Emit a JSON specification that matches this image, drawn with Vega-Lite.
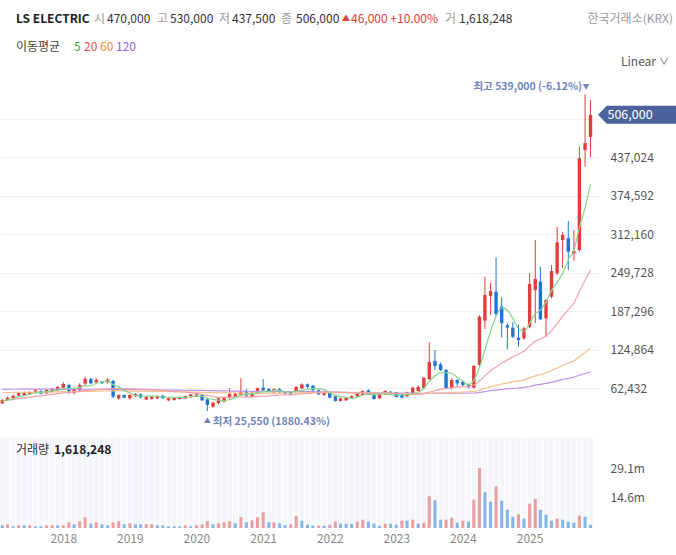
{
  "$schema": "https://vega.github.io/schema/vega-lite/v6.json",
  "width": 598,
  "height": 528,
  "autosize": {"type": "none"},
  "padding": {"left": 0, "top": 0, "right": 78, "bottom": 27},
  "background": "#ffffff",
  "config": {"view": {"stroke": null}, "font": "Noto Sans CJK KR"},
  "data": {"values": [
    {"date":"2017-02-01","open":38050,"high":45100,"low":36450,"close":43450,"volume":1310000,"volUp":false,"ma5":41000,"ma20":42000,"ma60":55500,"ma120":60800},
    {"date":"2017-03-01","open":42900,"high":48850,"low":41850,"close":47250,"volume":1790000,"volUp":true,"ma5":43500,"ma20":43000,"ma60":55600,"ma120":60800},
    {"date":"2017-04-01","open":46150,"high":52100,"low":45100,"close":50500,"volume":820000,"volUp":false,"ma5":45500,"ma20":44300,"ma60":55700,"ma120":60900},
    {"date":"2017-05-01","open":50500,"high":56450,"low":49400,"close":54800,"volume":1310000,"volUp":true,"ma5":48500,"ma20":45500,"ma60":55800,"ma120":60900},
    {"date":"2017-06-01","open":51050,"high":56950,"low":49950,"close":55350,"volume":1250000,"volUp":false,"ma5":50300,"ma20":46800,"ma60":55900,"ma120":61000},
    {"date":"2017-07-01","open":52650,"high":57500,"low":51550,"close":56450,"volume":1310000,"volUp":true,"ma5":52900,"ma20":48000,"ma60":56000,"ma120":61000},
    {"date":"2017-08-01","open":54800,"high":60750,"low":53750,"close":59150,"volume":820000,"volUp":false,"ma5":55200,"ma20":49300,"ma60":56100,"ma120":61000},
    {"date":"2017-09-01","open":58050,"high":59700,"low":52650,"close":53750,"volume":800000,"volUp":false,"ma5":55900,"ma20":50300,"ma60":56200,"ma120":61100},
    {"date":"2017-10-01","open":54250,"high":61300,"low":53200,"close":59700,"volume":1310000,"volUp":true,"ma5":56900,"ma20":51500,"ma60":56300,"ma120":61100},
    {"date":"2017-11-01","open":56950,"high":62900,"low":55900,"close":61300,"volume":1350000,"volUp":true,"ma5":58000,"ma20":52600,"ma60":56400,"ma120":61100},
    {"date":"2017-12-01","open":59150,"high":66150,"low":58050,"close":64550,"volume":1300000,"volUp":false,"ma5":59700,"ma20":53800,"ma60":56500,"ma120":61100},
    {"date":"2018-01-01","open":63450,"high":72100,"low":62400,"close":69400,"volume":1330000,"volUp":true,"ma5":61700,"ma20":55000,"ma60":56700,"ma120":61100},
    {"date":"2018-02-01","open":67800,"high":69950,"low":52650,"close":55900,"volume":2760000,"volUp":true,"ma5":62200,"ma20":55600,"ma60":56800,"ma120":61000},
    {"date":"2018-03-01","open":54800,"high":63450,"low":52650,"close":61300,"volume":1790000,"volUp":false,"ma5":62500,"ma20":56600,"ma60":57000,"ma120":61000},
    {"date":"2018-04-01","open":59150,"high":70500,"low":56950,"close":67800,"volume":3250000,"volUp":true,"ma5":63800,"ma20":57600,"ma60":57200,"ma120":61000},
    {"date":"2018-05-01","open":69950,"high":81300,"low":67800,"close":77500,"volume":5190000,"volUp":true,"ma5":66400,"ma20":58600,"ma60":57400,"ma120":60900},
    {"date":"2018-06-01","open":77500,"high":79700,"low":68850,"close":70500,"volume":2090000,"volUp":false,"ma5":66600,"ma20":59400,"ma60":57600,"ma120":60900},
    {"date":"2018-07-01","open":72100,"high":78600,"low":69950,"close":75900,"volume":2760000,"volUp":true,"ma5":70600,"ma20":60300,"ma60":57800,"ma120":60800},
    {"date":"2018-08-01","open":73200,"high":74250,"low":69400,"close":70500,"volume":1790000,"volUp":false,"ma5":72400,"ma20":61000,"ma60":58000,"ma120":60800},
    {"date":"2018-09-01","open":72100,"high":78600,"low":69950,"close":76450,"volume":1310000,"volUp":false,"ma5":74200,"ma20":61600,"ma60":58100,"ma120":60700},
    {"date":"2018-10-01","open":74250,"high":75900,"low":46150,"close":48850,"volume":2760000,"volUp":true,"ma5":68400,"ma20":61800,"ma60":58200,"ma120":60600},
    {"date":"2018-11-01","open":46150,"high":52650,"low":44000,"close":51550,"volume":3250000,"volUp":true,"ma5":64700,"ma20":62100,"ma60":58200,"ma120":60500},
    {"date":"2018-12-01","open":51550,"high":52650,"low":46150,"close":47250,"volume":1790000,"volUp":false,"ma5":58900,"ma20":61900,"ma60":58100,"ma120":60400},
    {"date":"2019-01-01","open":46150,"high":53750,"low":44000,"close":51550,"volume":2280000,"volUp":true,"ma5":55100,"ma20":61700,"ma60":58000,"ma120":60300},
    {"date":"2019-02-01","open":49400,"high":54250,"low":48350,"close":53200,"volume":1790000,"volUp":false,"ma5":50500,"ma20":61600,"ma60":57900,"ma120":60200},
    {"date":"2019-03-01","open":52650,"high":54250,"low":46150,"close":47800,"volume":1750000,"volUp":false,"ma5":50300,"ma20":61200,"ma60":57800,"ma120":60100},
    {"date":"2019-04-01","open":44000,"high":49400,"low":43450,"close":48350,"volume":1800000,"volUp":true,"ma5":49600,"ma20":60700,"ma60":57700,"ma120":60000},
    {"date":"2019-05-01","open":45100,"high":49950,"low":44000,"close":48850,"volume":1840000,"volUp":true,"ma5":50000,"ma20":60400,"ma60":57600,"ma120":59900},
    {"date":"2019-06-01","open":46150,"high":51050,"low":45100,"close":49950,"volume":1310000,"volUp":false,"ma5":49600,"ma20":59900,"ma60":57500,"ma120":59800},
    {"date":"2019-07-01","open":50500,"high":51550,"low":45100,"close":46150,"volume":1280000,"volUp":false,"ma5":48200,"ma20":59200,"ma60":57400,"ma120":59700},
    {"date":"2019-08-01","open":42900,"high":47250,"low":41850,"close":46150,"volume":820000,"volUp":false,"ma5":47900,"ma20":58300,"ma60":57200,"ma120":59600},
    {"date":"2019-09-01","open":43450,"high":48350,"low":42400,"close":47250,"volume":800000,"volUp":false,"ma5":47700,"ma20":57100,"ma60":57000,"ma120":59500},
    {"date":"2019-10-01","open":45100,"high":49400,"low":44000,"close":48350,"volume":780000,"volUp":false,"ma5":47600,"ma20":56800,"ma60":56800,"ma120":59400},
    {"date":"2019-11-01","open":46150,"high":51050,"low":45100,"close":49950,"volume":1310000,"volUp":true,"ma5":47600,"ma20":56200,"ma60":56600,"ma120":59300},
    {"date":"2019-12-01","open":48350,"high":53750,"low":47250,"close":52650,"volume":820000,"volUp":false,"ma5":48900,"ma20":55400,"ma60":56400,"ma120":59200},
    {"date":"2020-01-01","open":49400,"high":53750,"low":48350,"close":52650,"volume":1310000,"volUp":true,"ma5":50200,"ma20":54200,"ma60":56200,"ma120":59100},
    {"date":"2020-02-01","open":51550,"high":52650,"low":41850,"close":42900,"volume":1790000,"volUp":true,"ma5":49300,"ma20":52800,"ma60":56000,"ma120":59000},
    {"date":"2020-03-01","open":44550,"high":46150,"low":25550,"close":35350,"volume":3250000,"volUp":true,"ma5":46700,"ma20":50800,"ma60":55700,"ma120":58800},
    {"date":"2020-04-01","open":32650,"high":40750,"low":31050,"close":39150,"volume":1790000,"volUp":false,"ma5":44600,"ma20":49200,"ma60":55400,"ma120":58600},
    {"date":"2020-05-01","open":38600,"high":47800,"low":36450,"close":46150,"volume":2280000,"volUp":true,"ma5":43300,"ma20":47700,"ma60":55200,"ma120":58400},
    {"date":"2020-06-01","open":40750,"high":48850,"low":39700,"close":47250,"volume":2760000,"volUp":true,"ma5":42200,"ma20":47600,"ma60":55000,"ma120":58200},
    {"date":"2020-07-01","open":46700,"high":62400,"low":45100,"close":53200,"volume":3250000,"volUp":true,"ma5":44200,"ma20":47700,"ma60":54900,"ma120":58000},
    {"date":"2020-08-01","open":48350,"high":55350,"low":47250,"close":53750,"volume":2280000,"volUp":false,"ma5":47900,"ma20":48000,"ma60":54800,"ma120":57900},
    {"date":"2020-09-01","open":51550,"high":78600,"low":50500,"close":56950,"volume":5190000,"volUp":true,"ma5":51500,"ma20":48300,"ma60":54700,"ma120":57800},
    {"date":"2020-10-01","open":58050,"high":61300,"low":48350,"close":50500,"volume":2760000,"volUp":false,"ma5":52300,"ma20":48200,"ma60":54600,"ma120":57700},
    {"date":"2020-11-01","open":48350,"high":56450,"low":47250,"close":54800,"volume":3730000,"volUp":true,"ma5":53800,"ma20":48500,"ma60":54600,"ma120":57600},
    {"date":"2020-12-01","open":53750,"high":64000,"low":52650,"close":62400,"volume":5190000,"volUp":true,"ma5":55700,"ma20":49200,"ma60":54600,"ma120":57600},
    {"date":"2021-01-01","open":63450,"high":77500,"low":57500,"close":59150,"volume":7610000,"volUp":true,"ma5":56800,"ma20":49700,"ma60":54600,"ma120":57600},
    {"date":"2021-02-01","open":61300,"high":62900,"low":55900,"close":56950,"volume":2760000,"volUp":false,"ma5":56800,"ma20":50100,"ma60":54600,"ma120":57500},
    {"date":"2021-03-01","open":55900,"high":62400,"low":54800,"close":60750,"volume":2800000,"volUp":true,"ma5":58800,"ma20":50800,"ma60":54700,"ma120":57400},
    {"date":"2021-04-01","open":61300,"high":62900,"low":54800,"close":55900,"volume":2280000,"volUp":false,"ma5":59000,"ma20":51300,"ma60":54700,"ma120":57300},
    {"date":"2021-05-01","open":56950,"high":58050,"low":52650,"close":53750,"volume":1310000,"volUp":false,"ma5":57300,"ma20":51600,"ma60":54800,"ma120":57200},
    {"date":"2021-06-01","open":56950,"high":58050,"low":51550,"close":52650,"volume":1790000,"volUp":true,"ma5":56000,"ma20":51800,"ma60":54800,"ma120":57100},
    {"date":"2021-07-01","open":56950,"high":66150,"low":55900,"close":64550,"volume":5820000,"volUp":true,"ma5":57500,"ma20":52600,"ma60":54900,"ma120":57000},
    {"date":"2021-08-01","open":62400,"high":70500,"low":61300,"close":68850,"volume":3540000,"volUp":false,"ma5":59100,"ma20":53400,"ma60":55000,"ma120":57000},
    {"date":"2021-09-01","open":68850,"high":70500,"low":62400,"close":64550,"volume":1600000,"volUp":false,"ma5":60900,"ma20":54000,"ma60":55100,"ma120":57000},
    {"date":"2021-10-01","open":66700,"high":67800,"low":58050,"close":59150,"volume":1120000,"volUp":false,"ma5":61900,"ma20":54800,"ma60":55200,"ma120":56900},
    {"date":"2021-11-01","open":59150,"high":60750,"low":51550,"close":52650,"volume":1160000,"volUp":true,"ma5":61900,"ma20":55700,"ma60":55300,"ma120":56800},
    {"date":"2021-12-01","open":51550,"high":56950,"low":50500,"close":55900,"volume":1100000,"volUp":false,"ma5":60200,"ma20":56500,"ma60":55300,"ma120":56600},
    {"date":"2022-01-01","open":55900,"high":56950,"low":46150,"close":47250,"volume":1600000,"volUp":true,"ma5":55900,"ma20":56500,"ma60":55300,"ma120":56400},
    {"date":"2022-02-01","open":49400,"high":50500,"low":40750,"close":41850,"volume":3060000,"volUp":true,"ma5":51300,"ma20":56300,"ma60":55200,"ma120":56200},
    {"date":"2022-03-01","open":41850,"high":47250,"low":40750,"close":46150,"volume":2090000,"volUp":false,"ma5":48800,"ma20":55900,"ma60":55200,"ma120":56000},
    {"date":"2022-04-01","open":42900,"high":48350,"low":41850,"close":47250,"volume":2040000,"volUp":false,"ma5":47700,"ma20":55600,"ma60":55200,"ma120":55800},
    {"date":"2022-05-01","open":46150,"high":51050,"low":45100,"close":49950,"volume":1990000,"volUp":false,"ma5":46500,"ma20":55200,"ma60":55100,"ma120":55600},
    {"date":"2022-06-01","open":49400,"high":56950,"low":48350,"close":55900,"volume":3060000,"volUp":true,"ma5":48200,"ma20":55500,"ma60":55100,"ma120":55500},
    {"date":"2022-07-01","open":51550,"high":59150,"low":50500,"close":58050,"volume":4030000,"volUp":true,"ma5":51500,"ma20":55700,"ma60":55100,"ma120":55400},
    {"date":"2022-08-01","open":59150,"high":60750,"low":51550,"close":52650,"volume":3060000,"volUp":false,"ma5":52800,"ma20":55200,"ma60":55000,"ma120":55300},
    {"date":"2022-09-01","open":53750,"high":54800,"low":44000,"close":45100,"volume":2090000,"volUp":false,"ma5":52300,"ma20":54500,"ma60":54900,"ma120":55200},
    {"date":"2022-10-01","open":46150,"high":53750,"low":45100,"close":52650,"volume":1120000,"volUp":false,"ma5":52900,"ma20":54300,"ma60":54800,"ma120":55000},
    {"date":"2022-11-01","open":52650,"high":59150,"low":51550,"close":58050,"volume":2090000,"volUp":true,"ma5":53300,"ma20":54100,"ma60":54700,"ma120":54900},
    {"date":"2022-12-01","open":56950,"high":58050,"low":51550,"close":52650,"volume":2040000,"volUp":false,"ma5":52300,"ma20":54000,"ma60":54500,"ma120":54800},
    {"date":"2023-01-01","open":55900,"high":56950,"low":47250,"close":48350,"volume":1600000,"volUp":false,"ma5":51400,"ma20":53700,"ma60":54200,"ma120":54700},
    {"date":"2023-02-01","open":52650,"high":53750,"low":46150,"close":47250,"volume":3540000,"volUp":true,"ma5":51800,"ma20":53400,"ma60":54000,"ma120":54600},
    {"date":"2023-03-01","open":49400,"high":56950,"low":48350,"close":55900,"volume":3490000,"volUp":false,"ma5":52400,"ma20":53000,"ma60":53900,"ma120":54500},
    {"date":"2023-04-01","open":54800,"high":65100,"low":53750,"close":63450,"volume":4030000,"volUp":true,"ma5":53500,"ma20":52700,"ma60":53900,"ma120":54400},
    {"date":"2023-05-01","open":58050,"high":67250,"low":56950,"close":64550,"volume":2090000,"volUp":false,"ma5":55900,"ma20":52700,"ma60":53600,"ma120":54300},
    {"date":"2023-06-01","open":62450,"high":81250,"low":61300,"close":79600,"volume":2570000,"volUp":true,"ma5":62100,"ma20":53800,"ma60":53800,"ma120":54300},
    {"date":"2023-07-01","open":77500,"high":137000,"low":75900,"close":105100,"volume":15370000,"volUp":true,"ma5":73700,"ma20":56400,"ma60":54300,"ma120":54400},
    {"date":"2023-08-01","open":106700,"high":124550,"low":92100,"close":98600,"volume":13430000,"volUp":false,"ma5":82300,"ma20":58500,"ma60":54700,"ma120":54500},
    {"date":"2023-09-01","open":101350,"high":104250,"low":90500,"close":92100,"volume":4030000,"volUp":false,"ma5":88000,"ma20":60800,"ma60":55000,"ma120":54500},
    {"date":"2023-10-01","open":92100,"high":93750,"low":61000,"close":62450,"volume":4070000,"volUp":true,"ma5":87600,"ma20":61800,"ma60":55200,"ma120":54400},
    {"date":"2023-11-01","open":62450,"high":79100,"low":60800,"close":75900,"volume":5000000,"volUp":true,"ma5":86800,"ma20":63300,"ma60":55600,"ma120":54400},
    {"date":"2023-12-01","open":75900,"high":77000,"low":65000,"close":70550,"volume":2570000,"volUp":false,"ma5":79900,"ma20":64400,"ma60":56000,"ma120":54400},
    {"date":"2024-01-01","open":73150,"high":75000,"low":64600,"close":67800,"volume":3540000,"volUp":true,"ma5":73700,"ma20":65300,"ma60":56300,"ma120":54400},
    {"date":"2024-02-01","open":69400,"high":70500,"low":62400,"close":64050,"volume":3060000,"volUp":false,"ma5":68100,"ma20":65700,"ma60":56500,"ma120":54400},
    {"date":"2024-03-01","open":63400,"high":100200,"low":62000,"close":98600,"volume":13730000,"volUp":true,"ma5":75400,"ma20":67800,"ma60":57300,"ma120":54800},
    {"date":"2024-04-01","open":100200,"high":181000,"low":98600,"close":178550,"volume":29100000,"volUp":true,"ma5":95900,"ma20":74100,"ma60":59500,"ma120":55800},
    {"date":"2024-05-01","open":172050,"high":243400,"low":158600,"close":213750,"volume":17310000,"volUp":false,"ma5":124500,"ma20":82500,"ma60":62200,"ma120":57100},
    {"date":"2024-06-01","open":212100,"high":233700,"low":181300,"close":220200,"volume":12760000,"volUp":false,"ma5":155000,"ma20":90900,"ma60":65100,"ma120":58500},
    {"date":"2024-07-01","open":219100,"high":274850,"low":178550,"close":182900,"volume":20220000,"volUp":true,"ma5":178800,"ma20":97100,"ma60":67400,"ma120":59600},
    {"date":"2024-08-01","open":195000,"high":210000,"low":145000,"close":168000,"volume":13240000,"volUp":false,"ma5":192700,"ma20":102900,"ma60":69400,"ma120":60500},
    {"date":"2024-09-01","open":164600,"high":167800,"low":125700,"close":160900,"volume":8880000,"volUp":false,"ma5":189100,"ma20":108500,"ma60":71300,"ma120":61400},
    {"date":"2024-10-01","open":160700,"high":170000,"low":143500,"close":146100,"volume":5480000,"volUp":false,"ma5":175600,"ma20":113400,"ma60":72900,"ma120":62200},
    {"date":"2024-11-01","open":144500,"high":166200,"low":129900,"close":140750,"volume":6640000,"volUp":true,"ma5":159700,"ma20":117700,"ma60":74400,"ma120":62900},
    {"date":"2024-12-01","open":143500,"high":162300,"low":140750,"close":159700,"volume":4510000,"volUp":false,"ma5":155100,"ma20":122500,"ma60":76200,"ma120":63800},
    {"date":"2025-01-01","open":162300,"high":248900,"low":159700,"close":231550,"volume":11790000,"volUp":true,"ma5":167800,"ma20":130900,"ma60":79200,"ma120":65300},
    {"date":"2025-02-01","open":221800,"high":302900,"low":167800,"close":239650,"volume":14210000,"volUp":true,"ma5":183600,"ma20":138900,"ma60":82500,"ma120":67500},
    {"date":"2025-03-01","open":235300,"high":259600,"low":173200,"close":174300,"volume":8880000,"volUp":false,"ma5":189200,"ma20":142300,"ma60":84800,"ma120":68800},
    {"date":"2025-04-01","open":175900,"high":207000,"low":146100,"close":205600,"volume":6450000,"volUp":false,"ma5":202200,"ma20":147700,"ma60":87600,"ma120":70300},
    {"date":"2025-05-01","open":211000,"high":262400,"low":208400,"close":252600,"volume":3540000,"volUp":false,"ma5":220800,"ma20":155700,"ma60":91000,"ma120":72300},
    {"date":"2025-06-01","open":248900,"high":324500,"low":246200,"close":299200,"volume":4510000,"volUp":true,"ma5":234300,"ma20":167500,"ma60":95200,"ma120":74600},
    {"date":"2025-07-01","open":302900,"high":316400,"low":257000,"close":311000,"volume":4030000,"volUp":false,"ma5":248500,"ma20":179300,"ma60":99500,"ma120":76800},
    {"date":"2025-08-01","open":305700,"high":333700,"low":254300,"close":283900,"volume":3060000,"volUp":false,"ma5":270500,"ma20":190000,"ma60":103300,"ma120":78600},
    {"date":"2025-09-01","open":281300,"high":319100,"low":269300,"close":285100,"volume":2570000,"volUp":false,"ma5":286400,"ma20":200800,"ma60":107100,"ma120":80500},
    {"date":"2025-10-01","open":286700,"high":454200,"low":283900,"close":435400,"volume":5970000,"volUp":true,"ma5":322900,"ma20":219400,"ma60":113500,"ma120":83600},
    {"date":"2025-11-01","open":448900,"high":539000,"low":421800,"close":460000,"volume":5480000,"volUp":false,"ma5":355100,"ma20":237500,"ma60":120300,"ma120":86500},
    {"date":"2025-12-01","open":470000,"high":530000,"low":437500,"close":506000,"volume":1618248,"volUp":false,"ma5":394100,"ma20":253800,"ma60":127700,"ma120":89300}
  ]},
  "layer": [
    {
      "layer": [
        {
          "mark": {"type": "bar", "size": 4.6, "color": "#f4f6fa"},
          "encoding": {
            "x": {"field": "date", "type": "temporal",
                  "scale": {"type": "utc", "nice": false, "padding": 0, "domain": [{"year":2017,"month":1,"date":19,"utc":true},{"year":2026,"month":1,"date":11,"utc":true}]},
                  "axis": {"orient": "bottom", "format": "%Y", "grid": false, "ticks": false, "domain": false, "labelColor": "#888888", "labelFontSize": 12, "labelPadding": 5, "labelFlush": false, "title": null,
                           "values": [{"year":2018,"month":1,"date":1,"utc":true},{"year":2019,"month":1,"date":1,"utc":true},{"year":2020,"month":1,"date":1,"utc":true},{"year":2021,"month":1,"date":1,"utc":true},{"year":2022,"month":1,"date":1,"utc":true},{"year":2023,"month":1,"date":1,"utc":true},{"year":2024,"month":1,"date":1,"utc":true},{"year":2025,"month":1,"date":1,"utc":true}]}},
            "y": {"datum": 44100000, "type": "quantitative", "scale": {"domain": [0, 256100000], "nice": false, "zero": false, "padding": 0},
                  "axis": {"orient": "right", "values": [14560000, 29100000], "labelExpr": "datum.value > 20000000 ? '29.1m' : '14.6m'", "grid": false, "ticks": false, "domain": false, "labelColor": "#555555", "labelFontSize": 12, "labelPadding": 12, "title": null}},
            "y2": {"datum": 0}
          }
        },
        {
          "mark": {"type": "bar", "size": 3},
          "encoding": {
            "x": {"field": "date", "type": "temporal", "axis": {"title": null}},
            "y": {"field": "volume", "type": "quantitative", "scale": {"domain": [0, 256100000], "nice": false, "zero": false, "padding": 0}, "axis": {"title": null}},
            "color": {"condition": {"test": "datum.volUp", "value": "#eb9ea1"}, "value": "#86b5ea"}
          }
        }
      ]
    },
    {
      "layer": [
        {
          "mark": {"type": "rule", "strokeWidth": 1},
          "encoding": {
            "x": {"field": "date", "type": "temporal", "axis": {"title": null}},
            "y": {"field": "low", "type": "quantitative", "scale": {"domain": [-164106, 692099], "nice": false, "zero": false, "padding": 0},
                  "axis": {"orient": "right", "values": [62432, 124864, 187296, 249728, 312160, 374592, 437024, 499456], "labelExpr": "datum.value > 499000 ? '' : format(datum.value, ',')", "grid": true, "gridColor": "#eef0f3", "ticks": false, "domain": false, "labelColor": "#555555", "labelFontSize": 12, "labelPadding": 12, "title": null}},
            "y2": {"field": "high"},
            "color": {"condition": {"test": "datum.close >= datum.open", "value": "#e23d3d"}, "value": "#1c76d6"}
          }
        },
        {
          "mark": {"type": "bar", "size": 3.4},
          "encoding": {
            "x": {"field": "date", "type": "temporal", "axis": {"title": null}},
            "y": {"field": "open", "type": "quantitative", "scale": {"domain": [-164106, 692099], "nice": false, "zero": false, "padding": 0}, "axis": {"title": null}},
            "y2": {"field": "close"},
            "color": {"condition": {"test": "datum.close >= datum.open", "value": "#e23d3d"}, "value": "#1c76d6"}
          }
        },
        {
          "mark": {"type": "line", "strokeWidth": 1.2, "color": "#b993e8", "interpolate": "monotone"},
          "encoding": {"x": {"field": "date", "type": "temporal", "axis": {"title": null}}, "y": {"field": "ma120", "type": "quantitative", "axis": {"title": null}}}
        },
        {
          "mark": {"type": "line", "strokeWidth": 1.2, "color": "#f7bf8e", "interpolate": "monotone"},
          "encoding": {"x": {"field": "date", "type": "temporal", "axis": {"title": null}}, "y": {"field": "ma60", "type": "quantitative", "axis": {"title": null}}}
        },
        {
          "mark": {"type": "line", "strokeWidth": 1.2, "color": "#f3a3a8", "interpolate": "monotone"},
          "encoding": {"x": {"field": "date", "type": "temporal", "axis": {"title": null}}, "y": {"field": "ma20", "type": "quantitative", "axis": {"title": null}}}
        },
        {
          "mark": {"type": "line", "strokeWidth": 1.2, "color": "#88d488", "interpolate": "monotone"},
          "encoding": {"x": {"field": "date", "type": "temporal", "axis": {"title": null}}, "y": {"field": "ma5", "type": "quantitative", "axis": {"title": null}}}
        },
        {
          "data": {"values": [{}]},
          "mark": {"type": "text", "align": "center", "baseline": "middle", "dy": 10, "fontSize": 7, "color": "#7084bd"},
          "encoding": {"x": {"datum": {"year":2020,"month":3,"date":1,"utc":true}, "type": "temporal", "axis": {"title": null}}, "y": {"datum": 25550, "type": "quantitative", "axis": {"title": null}}, "text": {"value": "▲"}}
        },
        {
          "data": {"values": [{}]},
          "mark": {"type": "text", "align": "left", "baseline": "middle", "dx": 5.5, "dy": 10.5, "fontSize": 10.5, "fontWeight": "bold", "color": "#7084bd"},
          "encoding": {"x": {"datum": {"year":2020,"month":3,"date":1,"utc":true}, "type": "temporal", "axis": {"title": null}}, "y": {"datum": 25550, "type": "quantitative", "axis": {"title": null}}, "text": {"value": "최저 25,550 (1880.43%)"}}
        },
        {
          "data": {"values": [{}]},
          "mark": {"type": "text", "align": "center", "baseline": "middle", "dx": 1, "dy": -7, "fontSize": 7, "color": "#7084bd"},
          "encoding": {"x": {"datum": {"year":2025,"month":11,"date":1,"utc":true}, "type": "temporal", "axis": {"title": null}}, "y": {"datum": 539000, "type": "quantitative", "axis": {"title": null}}, "text": {"value": "▼"}}
        },
        {
          "data": {"values": [{}]},
          "mark": {"type": "text", "align": "right", "baseline": "middle", "dx": -3, "dy": -7, "fontSize": 10.5, "fontWeight": "bold", "color": "#7084bd"},
          "encoding": {"x": {"datum": {"year":2025,"month":11,"date":1,"utc":true}, "type": "temporal", "axis": {"title": null}}, "y": {"datum": 539000, "type": "quantitative", "axis": {"title": null}}, "text": {"value": "최고 539,000 (-6.12%)"}}
        },
        {
          "data": {"values": [{}]},
          "mark": {"type": "point", "shape": "M-1,0L-0.777,-0.231L1,-0.231L1,0.231L-0.777,0.231Z", "filled": true, "opacity": 1, "size": 6084, "color": "#4d629c", "strokeWidth": 0, "xOffset": 46.5},
          "encoding": {"x": {"datum": {"year":2025,"month":12,"date":1,"utc":true}, "type": "temporal", "axis": {"title": null}}, "y": {"datum": 506000, "type": "quantitative", "axis": {"title": null}}}
        },
        {
          "data": {"values": [{}]},
          "mark": {"type": "text", "align": "center", "baseline": "middle", "dx": 39.5, "fontSize": 12.5, "color": "#ffffff"},
          "encoding": {"x": {"datum": {"year":2025,"month":12,"date":1,"utc":true}, "type": "temporal", "axis": {"title": null}}, "y": {"datum": 506000, "type": "quantitative", "axis": {"title": null}}, "text": {"value": "506,000"}}
        },
        {
          "data": {"values": [{}]},
          "mark": {"type": "text", "align": "left", "baseline": "middle", "dx": 16, "fontSize": 12, "fontWeight": "bold", "color": "#222222"},
          "encoding": {"x": {"datum": {"year":2017,"month":1,"date":19,"utc":true}, "type": "temporal", "axis": {"title": null}}, "y": {"datum": 660478, "type": "quantitative", "axis": {"title": null}}, "text": {"value": "LS ELECTRIC"}}
        },
        {
          "data": {"values": [{}]},
          "mark": {"type": "text", "align": "left", "baseline": "middle", "dx": 94, "fontSize": 12, "color": "#9a9a9a"},
          "encoding": {"x": {"datum": {"year":2017,"month":1,"date":19,"utc":true}, "type": "temporal", "axis": {"title": null}}, "y": {"datum": 660478, "type": "quantitative", "axis": {"title": null}}, "text": {"value": "시"}}
        },
        {
          "data": {"values": [{}]},
          "mark": {"type": "text", "align": "left", "baseline": "middle", "dx": 107, "fontSize": 12, "color": "#333333"},
          "encoding": {"x": {"datum": {"year":2017,"month":1,"date":19,"utc":true}, "type": "temporal", "axis": {"title": null}}, "y": {"datum": 660478, "type": "quantitative", "axis": {"title": null}}, "text": {"value": "470,000"}}
        },
        {
          "data": {"values": [{}]},
          "mark": {"type": "text", "align": "left", "baseline": "middle", "dx": 157, "fontSize": 12, "color": "#9a9a9a"},
          "encoding": {"x": {"datum": {"year":2017,"month":1,"date":19,"utc":true}, "type": "temporal", "axis": {"title": null}}, "y": {"datum": 660478, "type": "quantitative", "axis": {"title": null}}, "text": {"value": "고"}}
        },
        {
          "data": {"values": [{}]},
          "mark": {"type": "text", "align": "left", "baseline": "middle", "dx": 170, "fontSize": 12, "color": "#333333"},
          "encoding": {"x": {"datum": {"year":2017,"month":1,"date":19,"utc":true}, "type": "temporal", "axis": {"title": null}}, "y": {"datum": 660478, "type": "quantitative", "axis": {"title": null}}, "text": {"value": "530,000"}}
        },
        {
          "data": {"values": [{}]},
          "mark": {"type": "text", "align": "left", "baseline": "middle", "dx": 219, "fontSize": 12, "color": "#9a9a9a"},
          "encoding": {"x": {"datum": {"year":2017,"month":1,"date":19,"utc":true}, "type": "temporal", "axis": {"title": null}}, "y": {"datum": 660478, "type": "quantitative", "axis": {"title": null}}, "text": {"value": "저"}}
        },
        {
          "data": {"values": [{}]},
          "mark": {"type": "text", "align": "left", "baseline": "middle", "dx": 232, "fontSize": 12, "color": "#333333"},
          "encoding": {"x": {"datum": {"year":2017,"month":1,"date":19,"utc":true}, "type": "temporal", "axis": {"title": null}}, "y": {"datum": 660478, "type": "quantitative", "axis": {"title": null}}, "text": {"value": "437,500"}}
        },
        {
          "data": {"values": [{}]},
          "mark": {"type": "text", "align": "left", "baseline": "middle", "dx": 281, "fontSize": 12, "color": "#9a9a9a"},
          "encoding": {"x": {"datum": {"year":2017,"month":1,"date":19,"utc":true}, "type": "temporal", "axis": {"title": null}}, "y": {"datum": 660478, "type": "quantitative", "axis": {"title": null}}, "text": {"value": "종"}}
        },
        {
          "data": {"values": [{}]},
          "mark": {"type": "text", "align": "left", "baseline": "middle", "dx": 296, "fontSize": 12, "color": "#333333"},
          "encoding": {"x": {"datum": {"year":2017,"month":1,"date":19,"utc":true}, "type": "temporal", "axis": {"title": null}}, "y": {"datum": 660478, "type": "quantitative", "axis": {"title": null}}, "text": {"value": "506,000"}}
        },
        {
          "data": {"values": [{}]},
          "mark": {"type": "text", "align": "left", "baseline": "middle", "dx": 342, "fontSize": 8, "color": "#e0393e"},
          "encoding": {"x": {"datum": {"year":2017,"month":1,"date":19,"utc":true}, "type": "temporal", "axis": {"title": null}}, "y": {"datum": 660478, "type": "quantitative", "axis": {"title": null}}, "text": {"value": "▲"}}
        },
        {
          "data": {"values": [{}]},
          "mark": {"type": "text", "align": "left", "baseline": "middle", "dx": 351, "fontSize": 12, "color": "#e0393e"},
          "encoding": {"x": {"datum": {"year":2017,"month":1,"date":19,"utc":true}, "type": "temporal", "axis": {"title": null}}, "y": {"datum": 660478, "type": "quantitative", "axis": {"title": null}}, "text": {"value": "46,000 +10.00%"}}
        },
        {
          "data": {"values": [{}]},
          "mark": {"type": "text", "align": "left", "baseline": "middle", "dx": 445, "fontSize": 12, "color": "#9a9a9a"},
          "encoding": {"x": {"datum": {"year":2017,"month":1,"date":19,"utc":true}, "type": "temporal", "axis": {"title": null}}, "y": {"datum": 660478, "type": "quantitative", "axis": {"title": null}}, "text": {"value": "거"}}
        },
        {
          "data": {"values": [{}]},
          "mark": {"type": "text", "align": "left", "baseline": "middle", "dx": 459, "fontSize": 12, "color": "#333333"},
          "encoding": {"x": {"datum": {"year":2017,"month":1,"date":19,"utc":true}, "type": "temporal", "axis": {"title": null}}, "y": {"datum": 660478, "type": "quantitative", "axis": {"title": null}}, "text": {"value": "1,618,248"}}
        },
        {
          "data": {"values": [{}]},
          "mark": {"type": "text", "align": "right", "baseline": "middle", "dx": 673, "fontSize": 12, "color": "#9a9a9a"},
          "encoding": {"x": {"datum": {"year":2017,"month":1,"date":19,"utc":true}, "type": "temporal", "axis": {"title": null}}, "y": {"datum": 660478, "type": "quantitative", "axis": {"title": null}}, "text": {"value": "한국거래소(KRX)"}}
        },
        {
          "data": {"values": [{}]},
          "mark": {"type": "text", "align": "left", "baseline": "middle", "dx": 16, "fontSize": 12, "color": "#444444"},
          "encoding": {"x": {"datum": {"year":2017,"month":1,"date":19,"utc":true}, "type": "temporal", "axis": {"title": null}}, "y": {"datum": 616694, "type": "quantitative", "axis": {"title": null}}, "text": {"value": "이동평균"}}
        },
        {
          "data": {"values": [{}]},
          "mark": {"type": "text", "align": "left", "baseline": "middle", "dx": 74, "fontSize": 12, "color": "#3aaa3a"},
          "encoding": {"x": {"datum": {"year":2017,"month":1,"date":19,"utc":true}, "type": "temporal", "axis": {"title": null}}, "y": {"datum": 616694, "type": "quantitative", "axis": {"title": null}}, "text": {"value": "5"}}
        },
        {
          "data": {"values": [{}]},
          "mark": {"type": "text", "align": "left", "baseline": "middle", "dx": 84, "fontSize": 12, "color": "#e84c4c"},
          "encoding": {"x": {"datum": {"year":2017,"month":1,"date":19,"utc":true}, "type": "temporal", "axis": {"title": null}}, "y": {"datum": 616694, "type": "quantitative", "axis": {"title": null}}, "text": {"value": "20"}}
        },
        {
          "data": {"values": [{}]},
          "mark": {"type": "text", "align": "left", "baseline": "middle", "dx": 100, "fontSize": 12, "color": "#f08c3a"},
          "encoding": {"x": {"datum": {"year":2017,"month":1,"date":19,"utc":true}, "type": "temporal", "axis": {"title": null}}, "y": {"datum": 616694, "type": "quantitative", "axis": {"title": null}}, "text": {"value": "60"}}
        },
        {
          "data": {"values": [{}]},
          "mark": {"type": "text", "align": "left", "baseline": "middle", "dx": 116, "fontSize": 12, "color": "#9060d8"},
          "encoding": {"x": {"datum": {"year":2017,"month":1,"date":19,"utc":true}, "type": "temporal", "axis": {"title": null}}, "y": {"datum": 616694, "type": "quantitative", "axis": {"title": null}}, "text": {"value": "120"}}
        },
        {
          "data": {"values": [{}]},
          "mark": {"type": "text", "align": "left", "baseline": "middle", "dx": 621, "fontSize": 12, "color": "#555555"},
          "encoding": {"x": {"datum": {"year":2017,"month":1,"date":19,"utc":true}, "type": "temporal", "axis": {"title": null}}, "y": {"datum": 591560, "type": "quantitative", "axis": {"title": null}}, "text": {"value": "Linear"}}
        },
        {
          "data": {"values": [{}]},
          "mark": {"type": "text", "align": "left", "baseline": "middle", "dx": 659, "fontSize": 10, "color": "#666666"},
          "encoding": {"x": {"datum": {"year":2017,"month":1,"date":19,"utc":true}, "type": "temporal", "axis": {"title": null}}, "y": {"datum": 591560, "type": "quantitative", "axis": {"title": null}}, "text": {"value": "∨"}}
        },
        {
          "data": {"values": [{}]},
          "mark": {"type": "text", "align": "left", "baseline": "middle", "dx": 16, "fontSize": 12, "color": "#333333"},
          "encoding": {"x": {"datum": {"year":2017,"month":1,"date":19,"utc":true}, "type": "temporal", "axis": {"title": null}}, "y": {"datum": -37620, "type": "quantitative", "axis": {"title": null}}, "text": {"value": "거래량"}}
        },
        {
          "data": {"values": [{}]},
          "mark": {"type": "text", "align": "left", "baseline": "middle", "dx": 54, "fontSize": 12, "fontWeight": "bold", "color": "#222222"},
          "encoding": {"x": {"datum": {"year":2017,"month":1,"date":19,"utc":true}, "type": "temporal", "axis": {"title": null}}, "y": {"datum": -37620, "type": "quantitative", "axis": {"title": null}}, "text": {"value": "1,618,248"}}
        }
      ]
    }
  ],
  "resolve": {"scale": {"y": "independent"}, "axis": {"y": "independent"}}
}
